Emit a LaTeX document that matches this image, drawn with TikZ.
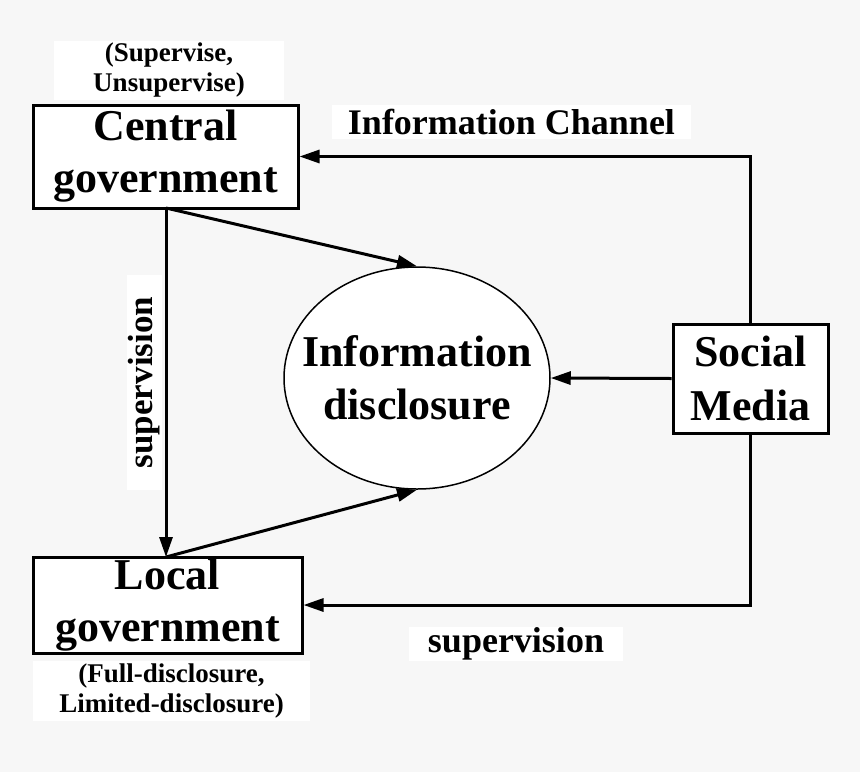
\documentclass[tikz,border=0pt]{standalone}
\usepackage{fontspec}
\setmainfont{Liberation Serif}
\usetikzlibrary{arrows.meta,shapes.geometric}
\definecolor{bgc}{HTML}{F7F7F7}
\tikzset{
  boxnode/.style={draw=black, line width=3pt, fill=white, inner sep=0pt, align=center,
    font=\bfseries\fontsize{44}{52}\selectfont},
  ellnode/.style={ellipse, draw=black, line width=1.5pt, fill=white, inner sep=0pt},
  elltext/.style={inner sep=0pt, align=center, font=\bfseries\fontsize{44}{53}\selectfont},
  smalllabel/.style={fill=white, inner sep=0pt, align=center,
    font=\bfseries\fontsize{27}{30}\selectfont},
  biglabel/.style={fill=white, inner sep=0pt, align=center,
    font=\bfseries\fontsize{36}{40}\selectfont},
  arr/.style={line width=3pt, -{Triangle[length=20pt,width=13pt]}}
}
\begin{document}
\begin{tikzpicture}[x=1pt,y=-1pt]
\fill[bgc] (0,0) rectangle (860,772);
\useasboundingbox (0,0) rectangle (860,772);

\node[smalllabel, minimum width=230pt, minimum height=59pt] (suplab) at (169,70.5) {(Supervise,\\Unsupervise)};
\node[smalllabel, minimum width=277pt, minimum height=60pt] (fulllab) at (171.5,691) {(Full-disclosure,\\Limited-disclosure)};
\node[biglabel, minimum width=359pt, minimum height=34pt] (iclab) at (511.5,122) {Information Channel};
\node[biglabel, minimum width=214pt, minimum height=34pt] (svlab) at (516,644) {supervision};
\node[biglabel, font=\bfseries\fontsize{35}{40}\selectfont, minimum width=215pt, minimum height=35pt, rotate=90] (vlab) at (144.5,382.5) {supervision};

\node[boxnode, minimum width=265pt, minimum height=103pt] (cg) at (165.5,156.5) {Central\\government};
\node[boxnode, minimum width=269pt, minimum height=96pt] (lg) at (167.5,605) {Local\\government};
\node[boxnode, minimum width=155pt, minimum height=109pt, font=\bfseries\fontsize{44}{54}\selectfont] (sm) at (750.5,378.5) {Social\\Media};
\node[ellnode, minimum width=266pt, minimum height=222pt] (ell) at (417,378) {};
\node[elltext] (elltxt) at (ell.center) {Information\\disclosure};

\coordinate (cgs) at (166,208);
\coordinate (lgn) at (166,557);
\draw[arr] (cgs) -- (lgn);
\draw[arr] (cgs) -- (ell.north);
\draw[arr] (lgn) -- (ell.south);
\draw[arr] (sm.west) -- (ell.east);
\draw[arr] (sm.north) |- (cg.east);
\draw[arr] (sm.south) |- (lg.east);
\end{tikzpicture}
\end{document}
